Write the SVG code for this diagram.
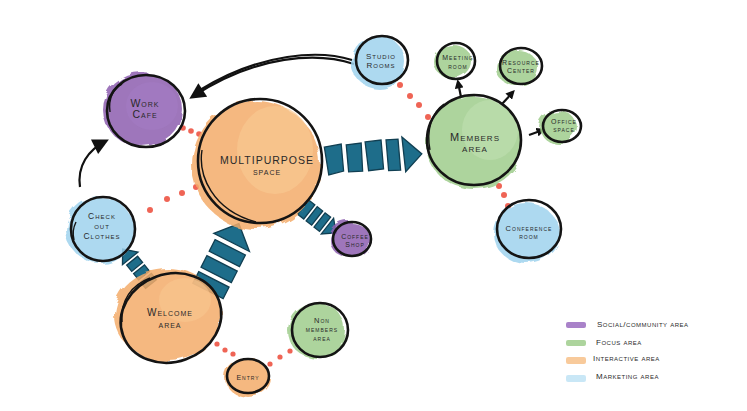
<svg xmlns="http://www.w3.org/2000/svg" width="747" height="411" viewBox="0 0 747 411">
<defs>
<filter id="rough" x="-20%" y="-20%" width="140%" height="140%">
<feTurbulence type="fractalNoise" baseFrequency="0.06" numOctaves="2" seed="3"/>
<feDisplacementMap in="SourceGraphic" scale="9"/>
</filter>
<marker id="ahS" viewBox="0 0 10 10" refX="7" refY="5" markerWidth="9" markerHeight="9" markerUnits="userSpaceOnUse" orient="auto">
<path d="M0,0 L10,5 L0,10 z" fill="#111"/>
</marker>
<marker id="ahL" viewBox="0 0 10 10" refX="8" refY="5" markerWidth="18" markerHeight="16" markerUnits="userSpaceOnUse" orient="auto">
<path d="M0,0 L10,5 L0,10 z" fill="#111"/>
</marker>
</defs>
<style>
.ol{fill:none;stroke:#141414;stroke-width:2.6}
.ol2{fill:none;stroke:#141414;stroke-width:1.4}
.w{filter:url(#rough)}
.pu{fill:#8e5fb0}.pu2{fill:#a47cc3}
.or{fill:#f4ac6a}.or2{fill:#f8c790}
.gr{fill:#9fcd8c}.gr2{fill:#bfdfb0}
.bl{fill:#9fd3ee}.bl2{fill:#c4e5f5}
.t{font-family:"Liberation Sans",Arial,sans-serif;font-variant:small-caps;fill:#2a2a2a;text-anchor:middle;letter-spacing:1px}
.lg{font-family:"Liberation Sans",Arial,sans-serif;font-variant:small-caps;fill:#2a2a2a;font-size:8px;letter-spacing:0.5px}
.dot{fill:#ef6455}
.tb{fill:#1e6d8a;stroke:#113f52;stroke-width:1.3}
.ba{fill:none;stroke:#111;stroke-width:2.2}
</style>

<g id="connectors">
<path class="ba" d="M354 64 C318 52 258 54 192 97" marker-end="url(#ahL)"/>
<path class="ba" d="M352 60 C320 50 262 52 200 90" stroke-width="1"/>
<path class="ba" d="M80 187 C77 166 88 150 106 141" marker-end="url(#ahL)"/>
<path class="ba" d="M461 97 L458 82" stroke-width="3" marker-end="url(#ahS)"/>
<path class="ba" d="M502 104 L513 92" stroke-width="3" marker-end="url(#ahS)"/>
<path class="ba" d="M529 135 L543 130" stroke-width="3" marker-end="url(#ahS)"/>
<g>
<circle class="dot" cx="183" cy="128" r="2.8"/><circle class="dot" cx="191" cy="131" r="2.8"/><circle class="dot" cx="199" cy="134" r="2.8"/>
<circle class="dot" cx="150" cy="210" r="3"/><circle class="dot" cx="167" cy="199" r="3"/><circle class="dot" cx="182" cy="193" r="3"/><circle class="dot" cx="196" cy="187" r="3"/>
<circle class="dot" cx="400" cy="85" r="3"/><circle class="dot" cx="410" cy="96" r="3"/><circle class="dot" cx="419" cy="105" r="3"/><circle class="dot" cx="428" cy="117" r="3"/>
<circle class="dot" cx="499" cy="186" r="3"/><circle class="dot" cx="504" cy="195" r="3"/><circle class="dot" cx="508" cy="206" r="3"/>
<circle class="dot" cx="217" cy="344" r="2.6"/><circle class="dot" cx="225" cy="350" r="2.6"/><circle class="dot" cx="233" cy="354" r="2.6"/>
<circle class="dot" cx="270" cy="364" r="2.6"/><circle class="dot" cx="280" cy="357" r="2.6"/><circle class="dot" cx="290" cy="351" r="2.6"/>
</g>
<g transform="translate(325,160) rotate(-3)">
<path class="tb" d="M0,-13 L17,-15 L18,12 L3,15 z"/>
<path class="tb" d="M22,-14 L37,-15 L37,13 L23,13 z"/>
<path class="tb" d="M41,-16 L57,-17 L58,12 L43,13 z"/>
<path class="tb" d="M62,-17 L74,-17 L75,14 L63,14 z"/>
<path class="tb" d="M78,-19 L97,-1 L80,16 z"/>
</g>
<g transform="translate(303,207) rotate(38)">
<path class="tb" d="M0,-9 L8,-9 L8,9 L0,9 z"/>
<path class="tb" d="M11,-9 L18,-9 L18,9 L11,9 z"/>
<path class="tb" d="M21,-9 L28,-9 L28,9 L21,9 z"/>
<path class="tb" d="M31,-10 L42,0 L31,10 z"/>
</g>
<g transform="translate(208,291) rotate(-63)">
<path class="tb" d="M0,-17 L13,-17 L13,17 L0,17 z"/>
<path class="tb" d="M18,-17 L31,-17 L31,17 L18,17 z"/>
<path class="tb" d="M36,-17 L49,-17 L49,17 L36,17 z"/>
<path class="tb" d="M54,-21 L74,-3 L54,19 z"/>
</g>
<g transform="translate(151,284) rotate(-129)">
<path class="tb" d="M0,-7 L8,-7 L8,7 L0,7 z"/>
<path class="tb" d="M11,-7 L19,-7 L19,7 L11,7 z"/>
<path class="tb" d="M22,-7 L30,-7 L30,7 L22,7 z"/>
<path class="tb" d="M33,-10 L45,0 L33,10 z"/>
</g>
</g>

<g id="work-cafe">
<ellipse class="pu w" cx="143" cy="110" rx="40" ry="37" opacity="0.85"/>
<ellipse class="pu2" cx="152" cy="106" rx="26" ry="24" opacity="0.6"/>
<ellipse class="ol" cx="146" cy="111" rx="39" ry="36"/>
<path class="ol2" d="M110 112 C108 98 114 88 122 84"/>
<text class="t" x="145" y="107" font-size="10.5">Work</text>
<text class="t" x="145" y="118" font-size="10.5">Cafe</text>
</g>

<g id="multipurpose-space">
<ellipse class="or w" cx="256" cy="165" rx="64" ry="64" opacity="0.85"/>
<ellipse class="or2" cx="275" cy="150" rx="38" ry="44" opacity="0.7"/>
<ellipse class="ol" cx="260" cy="161" rx="62" ry="62"/>
<path class="ol2" d="M202 150 C198 175 212 210 256 222"/>
<text class="t" x="267" y="164" font-size="10.5" letter-spacing="0.6">MULTIPURPOSE</text>
<text class="t" x="267" y="175" font-size="9.5">space</text>
</g>

<g id="studio-rooms">
<ellipse class="bl w" cx="378" cy="62" rx="27" ry="26" opacity="0.85"/>
<ellipse class="ol" cx="382" cy="60" rx="26" ry="24"/>
<text class="t" x="381" y="59" font-size="8">Studio</text>
<text class="t" x="381" y="68" font-size="8">Rooms</text>
</g>

<g id="meeting-room">
<ellipse class="gr w" cx="453" cy="62" rx="19" ry="17" opacity="0.85"/>
<ellipse class="ol" cx="456" cy="61" rx="19" ry="18"/>
<text class="t" x="458" y="60" font-size="7">Meeting</text>
<text class="t" x="458" y="69" font-size="7">room</text>
</g>

<g id="resource-center">
<ellipse class="gr w" cx="517" cy="68" rx="21" ry="18" opacity="0.85"/>
<ellipse class="ol" cx="521" cy="66" rx="21" ry="18"/>
<text class="t" x="521" y="65" font-size="7">Resource</text>
<text class="t" x="521" y="73" font-size="7">Center</text>
</g>

<g id="office-space">
<ellipse class="gr w" cx="558" cy="127" rx="19" ry="16" opacity="0.85"/>
<ellipse class="ol" cx="562" cy="126" rx="19" ry="16"/>
<text class="t" x="564" y="124" font-size="7">Office</text>
<text class="t" x="564" y="132" font-size="7">space</text>
</g>

<g id="members-area">
<ellipse class="gr w" cx="474" cy="143" rx="49" ry="46" opacity="0.85"/>
<ellipse class="gr2" cx="490" cy="130" rx="28" ry="30" opacity="0.6"/>
<ellipse class="ol" cx="474" cy="140" rx="47" ry="45"/>
<path class="ol2" d="M430 150 C426 130 432 112 444 104"/>
<text class="t" x="475" y="141" font-size="11">Members</text>
<text class="t" x="475" y="152" font-size="11">area</text>
</g>

<g id="conference-room">
<ellipse class="bl w" cx="526" cy="233" rx="33" ry="30" opacity="0.85"/>
<ellipse class="ol" cx="529" cy="229" rx="32" ry="29"/>
<text class="t" x="529" y="231" font-size="7.5">Conference</text>
<text class="t" x="529" y="239" font-size="7.5">room</text>
</g>

<g id="coffee-shop">
<ellipse class="pu w" cx="350" cy="240" rx="20" ry="18" opacity="0.85"/>
<ellipse class="ol" cx="352" cy="239" rx="19" ry="17"/>
<text class="t" x="355" y="239" font-size="7">Coffee</text>
<text class="t" x="355" y="247" font-size="7">Shop</text>
</g>

<g id="check-out-clothes">
<ellipse class="bl w" cx="100" cy="230" rx="34" ry="33" opacity="0.85"/>
<ellipse class="ol" cx="103" cy="229" rx="32" ry="32"/>
<path class="ol2" d="M74 240 C72 232 74 226 76 222"/>
<text class="t" x="102" y="219" font-size="8.5">Check</text>
<text class="t" x="102" y="229" font-size="8.5">out</text>
<text class="t" x="102" y="239" font-size="8.5">Clothes</text>
</g>

<g id="welcome-area">
<ellipse class="or w" cx="168" cy="315" rx="54" ry="46" opacity="0.85"/>
<ellipse class="or2" cx="185" cy="300" rx="26" ry="22" opacity="0.6"/>
<ellipse class="ol" cx="171" cy="318" rx="51" ry="44" transform="rotate(-20 171 318)"/>
<path class="ol2" d="M122 322 C120 300 132 285 150 278"/>
<text class="t" x="170" y="316" font-size="10">Welcome</text>
<text class="t" x="170" y="328" font-size="10">area</text>
</g>

<g id="entry">
<ellipse class="or w" cx="247" cy="377" rx="23" ry="19" opacity="0.85"/>
<ellipse class="ol" cx="248" cy="376" rx="21" ry="17"/>
<text class="t" x="248" y="380" font-size="7">Entry</text>
</g>

<g id="non-members-area">
<ellipse class="gr w" cx="317" cy="331" rx="29" ry="28" opacity="0.85"/>
<ellipse class="ol" cx="320" cy="330" rx="28" ry="27"/>
<text class="t" x="322" y="323" font-size="7.5">Non</text>
<text class="t" x="322" y="332" font-size="7.5">members</text>
<text class="t" x="322" y="341" font-size="7.5">area</text>
</g>

<g id="legend">
<rect x="566" y="322" width="20" height="6" fill="#9a6cc0" opacity="0.85" rx="2"/>
<rect x="566" y="340" width="20" height="6" fill="#9fcd8c" opacity="0.85" rx="2"/>
<rect x="566" y="357" width="20" height="7" fill="#f7c18a" opacity="0.85" rx="2"/>
<rect x="566" y="375" width="20" height="7" fill="#bfe3f5" opacity="0.85" rx="2"/>
<text class="lg" x="597" y="327">Social/community area</text>
<text class="lg" x="596" y="345">Focus area</text>
<text class="lg" x="593" y="361">Interactive area</text>
<text class="lg" x="596" y="379">Marketing area</text>
</g>
</svg>
